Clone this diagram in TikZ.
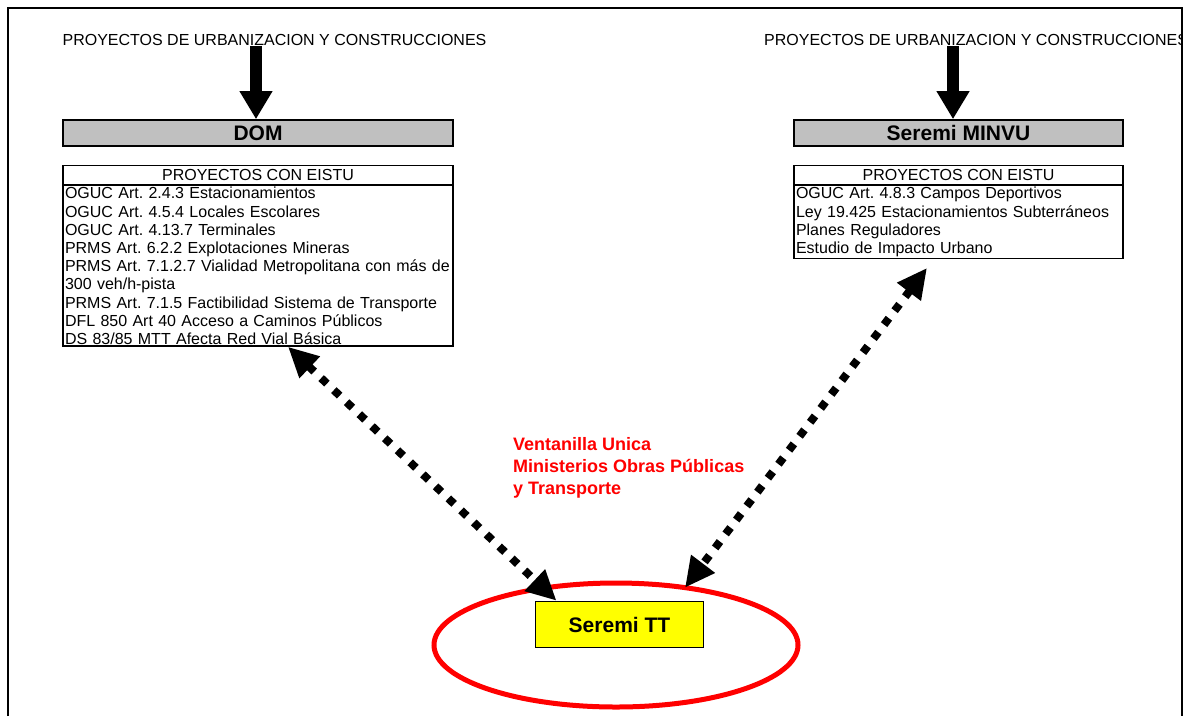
\documentclass[tikz,border=0pt]{standalone}
\usepackage{fontspec}
\setmainfont{Liberation Sans}
\usetikzlibrary{arrows.meta,shapes.geometric,positioning}

\definecolor{gris}{RGB}{192,192,192}
\definecolor{amarillo}{RGB}{255,255,0}
\definecolor{rojo}{RGB}{255,0,0}

\frenchspacing

\tikzset{
	fuente/.style={font=\fontsize{16}{18.2}\selectfont},
	titulo/.style={draw, line width=1.6pt, fill=gris, minimum height=26pt, inner sep=0pt, font=\fontsize{21}{24}\selectfont\bfseries},
	cabecera/.style={draw, line width=1.3pt, minimum height=19pt, inner sep=0pt, fuente},
	lista/.style={draw, line width=1.3pt, align=left, inner xsep=2pt, inner ysep=1.5pt, fuente},
	flecha/.style={line width=12pt, -{Triangle[length=28pt,width=31pt]}},
	punteada/.style={line width=8pt, dash pattern=on 8pt off 9.5pt, {Triangle[length=30pt,width=28pt]}-{Triangle[length=30pt,width=28pt]}},
}

\begin{document}
\begin{tikzpicture}[x=1pt, y=-1pt]
	\useasboundingbox (0,0) rectangle (1185,716);

	% origen de los proyectos
	\node[fuente, inner sep=0pt] (srcizq) at (274.5,40) {PROYECTOS DE URBANIZACION Y CONSTRUCCIONES};
	\begin{scope}
		\clip (0,0) rectangle (1182,716);
		\node[fuente, inner sep=0pt, anchor=west] (srcder) at (764,40) {PROYECTOS DE URBANIZACION Y CONSTRUCCIONES};
	\end{scope}

	\node[titulo, minimum width=390pt] (dom) at (258,133) {DOM};
	\node[titulo, minimum width=329pt] (minvu) at (958.5,133) {Seremi MINVU};

	\draw[flecha] (srcizq.south -| 256,0) -- (dom.north -| 256,0);
	\draw[flecha] (srcder.south -| 953,0) -- (minvu.north -| 953,0);

	% tablas de proyectos con EISTU
	\node[cabecera, minimum width=390pt, below=18pt of dom] (domcab) {PROYECTOS CON EISTU};
	\node[lista, text width=386pt, below=0pt of domcab] (domlista) {OGUC Art. 2.4.3 Estacionamientos\\
		OGUC Art. 4.5.4 Locales Escolares\\
		OGUC Art. 4.13.7 Terminales\\
		PRMS Art. 6.2.2 Explotaciones Mineras\\
		PRMS Art. 7.1.2.7 Vialidad Metropolitana con más de\\
		300 veh/h-pista\\
		PRMS Art. 7.1.5 Factibilidad Sistema de Transporte\\
		DFL 850 Art 40 Acceso a Caminos Públicos\\
		DS 83/85 MTT Afecta Red Vial Básica};

	\node[cabecera, minimum width=329pt, below=18pt of minvu] (minvucab) {PROYECTOS CON EISTU};
	\node[lista, text width=325pt, below=0pt of minvucab] (minvulista) {OGUC Art. 4.8.3 Campos Deportivos\\
		Ley 19.425 Estacionamientos Subterráneos\\
		Planes Reguladores\\
		Estudio de Impacto Urbano};

	% ventanilla unica
	\node[ellipse, draw=rojo, line width=5pt, minimum width=364pt, minimum height=124pt, inner sep=0pt] (ventanilla) at (616,645) {};
	\node[draw, line width=1.6pt, fill=amarillo, minimum width=168pt, minimum height=46pt, font=\fontsize{21}{24}\selectfont\bfseries] (tt) at (619.5,624.5) {Seremi TT};

	\node[anchor=north west, align=left, inner sep=0pt, text=rojo, font=\fontsize{18}{22}\selectfont\bfseries] (ventanillatxt) at (513,437) {Ventanilla Unica\\Ministerios Obras Públicas\\y Transporte};

	\draw[punteada] ([xshift=30pt]domlista.south) -- ([xshift=-63pt]tt.north);
	\draw[punteada] ([shift={(-31.5pt,-9pt)}]minvulista.south) -- ([shift={(65.5pt,13pt)}]tt.north);

	% marco
	\draw[line width=2pt] (8,716) -- (8,8) -- (1182,8) -- (1182,716);
\end{tikzpicture}
\end{document}
